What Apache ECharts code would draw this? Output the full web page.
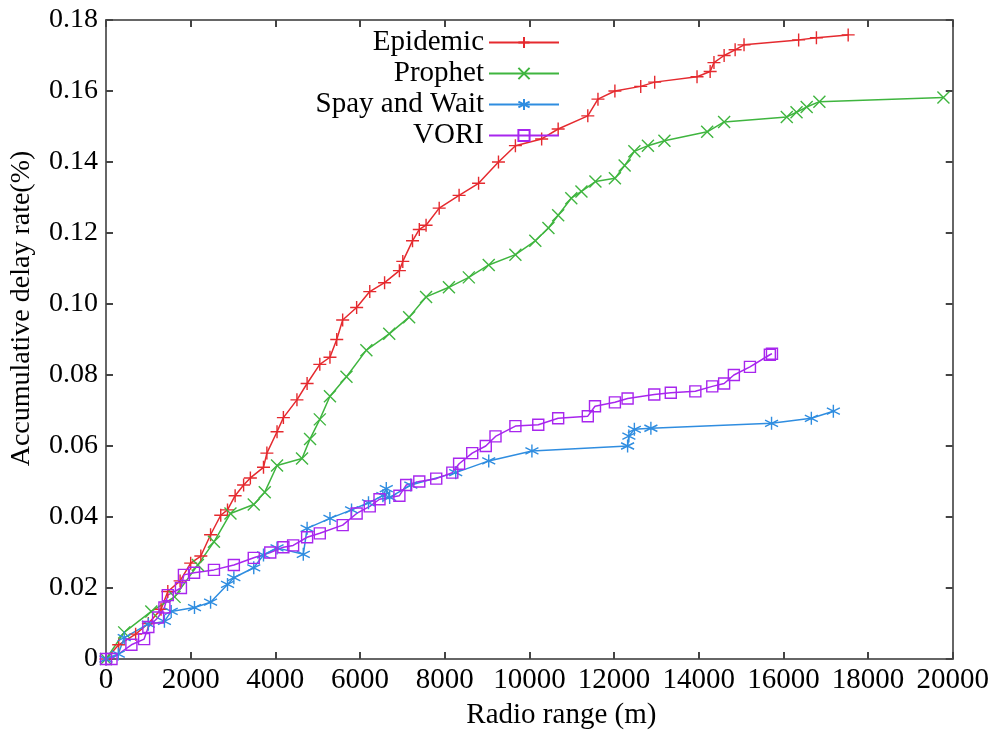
<!DOCTYPE html>
<html>
<head>
<meta charset="utf-8">
<script src="https://cdn.jsdelivr.net/npm/echarts@6/dist/echarts.min.js"></script>
<style>html,body{margin:0;padding:0;background:#fff;}#c{width:992px;height:735px;}</style>
</head>
<body>
<div id="c"></div>
<script>
var xTicks = [0, 2000, 4000, 6000, 8000, 10000, 12000, 14000, 16000, 18000, 20000];
var yTicks = [0, 0.02, 0.04, 0.06, 0.08, 0.10, 0.12, 0.14, 0.16, 0.18];
var seriesNames = ['Epidemic', 'Prophet', 'Spay and Wait', 'VORI'];

var epidemicX = [0,300,700,1000,1300,1460,1750,2000,2240,2470,2710,2870,3050,3250,3410,3720,3800,4040,4190,4510,4750,5050,5290,5450,5590,5920,6230,6580,6930,7010,7240,7400,7560,7870,8340,8800,9270,9670,10290,10680,11380,11620,12020,12630,12960,13960,14270,14360,14600,14860,15070,16360,16780,17530];
var epidemicY = [0,0.004,0.007,0.010,0.014,0.019,0.022,0.027,0.029,0.035,0.0405,0.042,0.046,0.049,0.051,0.054,0.058,0.064,0.068,0.073,0.0776,0.083,0.085,0.090,0.0955,0.099,0.1035,0.106,0.1094,0.112,0.1178,0.121,0.1222,0.127,0.1306,0.134,0.140,0.1446,0.1465,0.1493,0.153,0.1577,0.160,0.1613,0.1625,0.164,0.1655,0.168,0.170,0.1716,0.173,0.1744,0.175,0.1758];

var prophetX = [0,430,1070,1620,2170,2550,2940,3490,3750,4040,4630,4820,5050,5290,5680,6150,6690,7160,7560,8100,8570,9040,9670,10140,10450,10680,10990,11230,11560,12020,12250,12480,12800,13190,14200,14600,16080,16310,16550,16850,19780];
var prophetY = [0,0.0075,0.0134,0.0175,0.0265,0.033,0.041,0.0435,0.047,0.0545,0.0565,0.062,0.0675,0.074,0.0795,0.087,0.0916,0.0963,0.102,0.1047,0.1075,0.111,0.1139,0.1178,0.1214,0.125,0.1298,0.1317,0.1345,0.1354,0.139,0.143,0.1446,0.146,0.1485,0.1513,0.1527,0.154,0.1555,0.157,0.1582];

var sprayX = [0,290,430,1000,1380,1540,2090,2470,2870,3020,3490,3720,4040,4660,4750,5290,5800,6200,6540,6620,6700,7200,8260,9040,10060,12320,12350,12480,12870,15720,16660,17180];
var sprayY = [0,0.0014,0.006,0.0098,0.0106,0.0134,0.0145,0.016,0.021,0.0229,0.0257,0.0293,0.0313,0.0295,0.0368,0.0396,0.042,0.044,0.046,0.048,0.0455,0.049,0.0525,0.0558,0.0586,0.060,0.0628,0.0647,0.065,0.0664,0.0678,0.0698];

var voriX = [0,130,600,900,1000,1230,1380,1460,1770,1840,2080,2550,3020,3490,3880,4190,4420,4750,5050,5590,5920,6230,6460,6930,7090,7400,7800,8180,8340,8650,8970,9200,9670,10210,10680,11380,11550,12020,12320,12950,13340,13920,14320,14600,14830,15210,15680,15730];
var voriY = [0,0,0.004,0.0056,0.009,0.0117,0.0145,0.018,0.020,0.0237,0.0243,0.0251,0.0265,0.0285,0.030,0.0315,0.032,0.0343,0.0354,0.0377,0.041,0.043,0.045,0.046,0.049,0.050,0.0508,0.0525,0.055,0.058,0.060,0.0627,0.0656,0.066,0.0678,0.0684,0.0712,0.0723,0.0734,0.0745,0.075,0.0754,0.0768,0.0776,0.080,0.0823,0.0857,0.0860];

function pairs(xs, ys) { return xs.map(function (x, i) { return [x, ys[i]]; }); }

var FONT = "'Liberation Serif', 'Times New Roman', serif";
var colors = ['#e52a2f', '#3fb53f', '#2f8de0', '#a826ee'];
var symbols = [
  'path://M0,-1L0,1M-1,0L1,0',
  'path://M-1,-1L1,1M-1,1L1,-1',
  'path://M0,-1L0,1M-0.87,-0.5L0.87,0.5M-0.87,0.5L0.87,-0.5',
  'path://M-1,-1L1,-1L1,1L-1,1Z'
];
var sizes = [13, 12, 13, 11];
var dataSets = [pairs(epidemicX, epidemicY), pairs(prophetX, prophetY), pairs(sprayX, sprayY), pairs(voriX, voriY)];

var series = seriesNames.map(function (n, i) {
  return {
    name: n, type: 'line', data: dataSets[i],
    symbol: symbols[i], symbolSize: sizes[i], showAllSymbol: true,
    lineStyle: { color: colors[i], width: 1.5 },
    itemStyle: { color: 'rgba(0,0,0,0)', borderColor: colors[i], borderWidth: 1.4 },
    emphasis: { disabled: true },
    animation: false
  };
});

var axisLineStyle = { color: '#666', width: 2 };
var chart = echarts.init(document.getElementById('c'));
chart.setOption({
  animation: false,
  backgroundColor: '#fff',
  textStyle: { fontFamily: FONT, color: '#000' },
  grid: { left: 104.5, right: 34.5, top: 20, bottom: 70, containLabel: false },
  legend: {
    data: seriesNames, orient: 'vertical', align: 'right',
    right: 427, top: 23, itemWidth: 70, itemHeight: 14, itemGap: 2,
    textStyle: { fontFamily: FONT, fontSize: 29, color: '#000', lineHeight: 28.5 }
  },
  xAxis: [{
    type: 'value', min: xTicks[0], max: xTicks[xTicks.length - 1], interval: xTicks[1] - xTicks[0],
    name: 'Radio range (m)', nameLocation: 'middle', nameGap: 42,
    nameTextStyle: { fontFamily: FONT, fontSize: 29, color: '#000', padding: [0, 0, 0, 64] },
    axisLine: { onZero: false, lineStyle: axisLineStyle },
    axisTick: { inside: true, length: 7, lineStyle: { color: '#444', width: 2 } },
    axisLabel: { fontFamily: FONT, fontSize: 29, color: '#000', margin: 7,
      formatter: function (v) { return String(v); } },
    splitLine: { show: false }
  }, {
    type: 'value', position: 'top', min: xTicks[0], max: xTicks[xTicks.length - 1], interval: xTicks[1] - xTicks[0],
    axisLine: { onZero: false, lineStyle: axisLineStyle },
    axisTick: { inside: true, length: 7, lineStyle: { color: '#444', width: 2 } },
    axisLabel: { show: false }, splitLine: { show: false }
  }],
  yAxis: [{
    type: 'value', min: yTicks[0], max: yTicks[yTicks.length - 1], interval: yTicks[1] - yTicks[0],
    name: 'Accumulative delay rate(%)', nameLocation: 'middle', nameGap: 70,
    nameTextStyle: { fontFamily: FONT, fontSize: 28, color: '#000', padding: [0, 0, 0, 62] },
    axisLine: { onZero: false, lineStyle: axisLineStyle },
    axisTick: { inside: true, length: 7, lineStyle: { color: '#444', width: 2 } },
    axisLabel: { fontFamily: FONT, fontSize: 28, color: '#000', margin: 8,
      formatter: function (v) { return v === 0 ? '0' : v.toFixed(2); } },
    splitLine: { show: false }
  }, {
    type: 'value', position: 'right', min: yTicks[0], max: yTicks[yTicks.length - 1], interval: yTicks[1] - yTicks[0],
    axisLine: { onZero: false, lineStyle: axisLineStyle },
    axisTick: { inside: true, length: 7, lineStyle: { color: '#444', width: 2 } },
    axisLabel: { show: false }, splitLine: { show: false }
  }],
  series: series
});
</script>
</body>
</html>
